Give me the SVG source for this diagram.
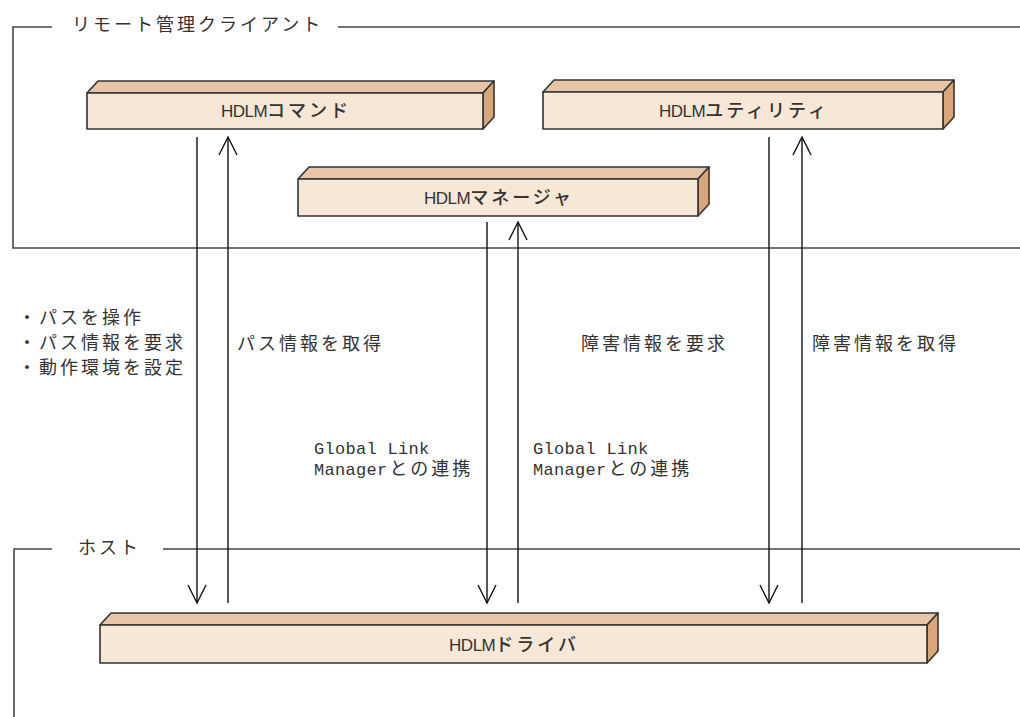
<svg xmlns="http://www.w3.org/2000/svg" width="1020" height="717" viewBox="0 0 1020 717">
<style>
.frame{fill:none;stroke:#444;stroke-width:1.6}
.front{fill:#F7E7D7;stroke:#333;stroke-width:1.6;stroke-linejoin:round}
.top{fill:#E8C5A6;stroke:#333;stroke-width:1.6;stroke-linejoin:round}
.side{fill:#D9A679;stroke:#333;stroke-width:1.6;stroke-linejoin:round}
.arr{fill:none;stroke:#111;stroke-width:1.4}
text{font-family:"Noto Sans CJK JP","Liberation Sans",sans-serif;font-size:18px;fill:#333}
.jp{letter-spacing:3px}
.lat{font-family:"Liberation Sans",sans-serif;font-size:17px;letter-spacing:-0.5px}
.mono{font-family:"Liberation Mono",monospace;font-size:17px;letter-spacing:0.3px}
.lbl{fill:#333;font-weight:500}
</style>
<defs>
<marker id="vh" viewBox="-20 -11 22 22" markerWidth="22" markerHeight="22" refX="0" refY="0" orient="auto" markerUnits="userSpaceOnUse" overflow="visible">
<path d="M-18,-9 L0,0 L-18,9" fill="none" stroke="#111" stroke-width="1.4"/>
</marker>
</defs>
<g id="frame-client">
<polyline class="frame" points="52,27 13,27 13,248 1020,248"/>
<line class="frame" x1="338" y1="27" x2="1020" y2="27"/>
<text x="72" y="31" class="jp">リモート管理クライアント</text>
</g>
<g id="frame-host">
<polyline class="frame" points="52,549 14,549 14,717"/>
<line class="frame" x1="163" y1="549" x2="1020" y2="549"/>
<text x="78" y="554" class="jp">ホスト</text>
</g>
<g id="connectors">
<line class="arr" x1="197" y1="137" x2="197" y2="603" marker-end="url(#vh)"/>
<line class="arr" x1="228" y1="603" x2="228" y2="137" marker-end="url(#vh)"/>
<line class="arr" x1="487" y1="222" x2="487" y2="603" marker-end="url(#vh)"/>
<line class="arr" x1="518" y1="603" x2="518" y2="222" marker-end="url(#vh)"/>
<line class="arr" x1="769" y1="137" x2="769" y2="603" marker-end="url(#vh)"/>
<line class="arr" x1="802" y1="603" x2="802" y2="137" marker-end="url(#vh)"/>
</g>
<g id="labels">
<text x="18" y="324" class="jp">・パスを操作</text>
<text x="18" y="349" class="jp">・パス情報を要求</text>
<text x="18" y="374" class="jp">・動作環境を設定</text>
<text x="237" y="350" class="jp">パス情報を取得</text>
<text x="581" y="350" class="jp">障害情報を要求</text>
<text x="812" y="350" class="jp">障害情報を取得</text>
<text x="314" y="454"><tspan class="mono">Global Link</tspan></text>
<text x="314" y="475"><tspan class="mono">Manager</tspan><tspan class="jp" dx="2">との連携</tspan></text>
<text x="533" y="454"><tspan class="mono">Global Link</tspan></text>
<text x="533" y="475"><tspan class="mono">Manager</tspan><tspan class="jp" dx="2">との連携</tspan></text>
</g>
<g id="node-command">
<polygon class="top" points="87,93 98,81 494,81 483,93"/>
<polygon class="side" points="483,93 494,81 494,117 483,129"/>
<rect class="front" x="87" y="93" width="396" height="36"/>
<text x="286" y="117" text-anchor="middle" class="lbl"><tspan class="lat">HDLM</tspan><tspan class="jp">コマンド</tspan></text>
</g>
<g id="node-utility">
<polygon class="top" points="543,92 554,80 954,80 943,92"/>
<polygon class="side" points="943,92 954,80 954,117 943,129"/>
<rect class="front" x="543" y="92" width="400" height="37"/>
<text x="744" y="117" text-anchor="middle" class="lbl"><tspan class="lat">HDLM</tspan><tspan class="jp">ユティリティ</tspan></text>
</g>
<g id="node-manager">
<polygon class="top" points="298,179 309,167 709,167 698,179"/>
<polygon class="side" points="698,179 709,167 709,204 698,216"/>
<rect class="front" x="298" y="179" width="400" height="37"/>
<text x="499" y="204" text-anchor="middle" class="lbl"><tspan class="lat">HDLM</tspan><tspan class="jp">マネージャ</tspan></text>
</g>
<g id="node-driver">
<polygon class="top" points="100,625 111,613 938,613 927,625"/>
<polygon class="side" points="927,625 938,613 938,651 927,663"/>
<rect class="front" x="100" y="625" width="827" height="38"/>
<text x="514" y="651" text-anchor="middle" class="lbl"><tspan class="lat">HDLM</tspan><tspan class="jp">ドライバ</tspan></text>
</g>
</svg>
